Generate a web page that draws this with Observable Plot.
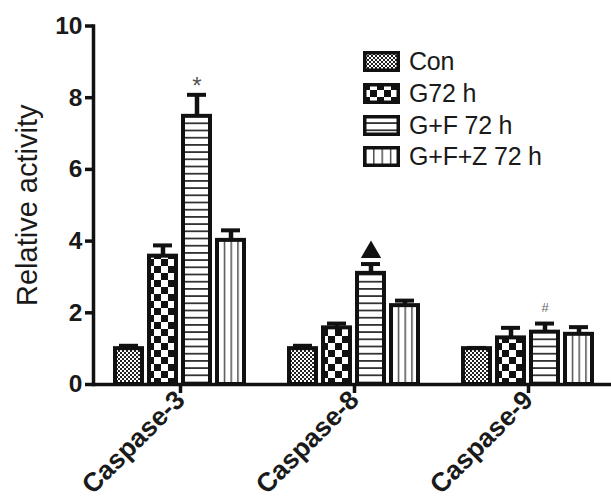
<!DOCTYPE html>
<html><head><meta charset="utf-8">
<script src="https://cdn.jsdelivr.net/npm/d3@7"></script>
<script src="https://cdn.jsdelivr.net/npm/@observablehq/plot@0.6"></script>
<style>
body{margin:0;background:#fff;overflow:hidden}
#wrap{position:relative;width:611px;height:501px}
#legend{position:absolute;left:363px;top:46px;font-family:"Liberation Sans",Arial,sans-serif;font-size:25px;color:#1a1a1a}
.row{display:flex;align-items:center;height:31.7px;white-space:nowrap}
.row svg{flex:none}
.row span{margin-left:9px;letter-spacing:-0.2px}
#defs{position:absolute;width:0;height:0;left:0;top:0}
</style></head><body>
<svg id="defs" width="0" height="0"></svg>
<div id="wrap"><div id="legend"></div></div>
<script>
// ---- data ----
const categories = ["Caspase-3", "Caspase-8", "Caspase-9"];
const series = ["Con", "G72 h", "G+F 72 h", "G+F+Z 72 h"];
const conValues = [1.0, 1.0, 1.0];
const g72Values = [3.58, 1.58, 1.30];
const gfValues  = [7.48, 3.10, 1.46];
const gfzValues = [4.02, 2.20, 1.40];
const conErrors = [0.08, 0.08, 0.02];
const g72Errors = [0.30, 0.12, 0.28];
const gfErrors  = [0.60, 0.26, 0.24];
const gfzErrors = [0.28, 0.14, 0.20];
const yTicks = [0, 2, 4, 6, 8, 10];
const yLabel = "Relative activity";
const annotCategories = ["Caspase-3", "Caspase-8", "Caspase-9"];
const annotSeries = ["G+F 72 h", "G+F 72 h", "G+F 72 h"];
const annotSymbols = ["*", "▲", "#"];

// ---- table ----
const valueSets = [conValues, g72Values, gfValues, gfzValues];
const errorSets = [conErrors, g72Errors, gfErrors, gfzErrors];
const rows = [];
categories.forEach((c, i) => series.forEach((s, j) => {
  rows.push({category: c, series: s, value: valueSets[j][i], error: errorSets[j][i], top: valueSets[j][i] + errorSets[j][i]});
}));
const annots = annotCategories.map((c, k) => {
  const r = rows.find(d => d.category === c && d.series === annotSeries[k]);
  return {category: c, series: annotSeries[k], top: r.top, symbol: annotSymbols[k]};
});

// ---- patterns ----
const defs = d3.select("#defs").append("defs");
let p = defs.append("pattern").attr("id", "pat0").attr("patternUnits", "userSpaceOnUse").attr("width", 4).attr("height", 4);
p.append("rect").attr("width", 4).attr("height", 4).attr("fill", "#fff");
p.append("rect").attr("width", 2).attr("height", 2).attr("fill", "#222");
p.append("rect").attr("x", 2).attr("y", 2).attr("width", 2).attr("height", 2).attr("fill", "#222");
p = defs.append("pattern").attr("id", "pat1").attr("patternUnits", "userSpaceOnUse").attr("width", 14).attr("height", 14);
p.append("rect").attr("width", 14).attr("height", 14).attr("fill", "#fff");
p.append("rect").attr("width", 7).attr("height", 7).attr("fill", "#111");
p.append("rect").attr("x", 7).attr("y", 7).attr("width", 7).attr("height", 7).attr("fill", "#111");
p = defs.append("pattern").attr("id", "pat2").attr("patternUnits", "userSpaceOnUse").attr("width", 8).attr("height", 7.2);
p.append("rect").attr("width", 8).attr("height", 7.2).attr("fill", "#fff");
p.append("rect").attr("y", 0).attr("width", 8).attr("height", 1.8).attr("fill", "#333");
p = defs.append("pattern").attr("id", "pat3").attr("patternUnits", "objectBoundingBox").attr("width", 0.25).attr("height", 1);
p.append("rect").attr("width", 100).attr("height", 2000).attr("fill", "#fff");
p.append("rect").attr("x", 0).attr("width", 1.4).attr("height", 2000).attr("fill", "#444");

const font = "Liberation Sans, Arial, sans-serif";
const chart = Plot.plot({
  width: 611, height: 501,
  marginLeft: 93, marginRight: -4, marginTop: 25.5, marginBottom: 117,
  style: {fontFamily: font, color: "#1a1a1a", background: "white", overflow: "visible"},
  fx: {domain: categories, padding: 0, label: null},
  x: {domain: series, paddingInner: 0.2, paddingOuter: 0.586, axis: null},
  y: {domain: [0, 10], label: null},
  marks: [
    Plot.ruleX(rows, {fx: "category", x: "series", y1: "value", y2: "top", stroke: "#111", strokeWidth: 4.5}),
    Plot.tickY(rows, {fx: "category", x: "series", y: "top", stroke: "#111", strokeWidth: 4, insetLeft: 4, insetRight: 4}),
    ...series.map((s, j) => Plot.barY(rows.filter(r => r.series === s), {
      fx: "category", x: "series", y: "value", fill: `url(#pat${j})`, stroke: "#111", strokeWidth: 4
    })),
    Plot.ruleY([0], {stroke: "#111", strokeWidth: 3.5}),
    Plot.frame({anchor: "left", facetAnchor: "left", stroke: "#111", strokeWidth: 3.5}),
    Plot.axisY({ticks: yTicks, tickSize: 8, tickPadding: 3, fontSize: 24.5, fontWeight: "bold", label: null, stroke: "#111", strokeWidth: 3.5}),
    Plot.text([yLabel], {frameAnchor: "left", facetAnchor: "left", textAnchor: "middle", rotate: -90, dx: -66, fontSize: 29, fill: "#1a1a1a"}),
    Plot.axisFx({anchor: "bottom", tickSize: 9, tickPadding: 2, tickRotate: -45, fontSize: 26.5, fontWeight: "bold", label: null, stroke: "#111", strokeWidth: 3.5}),
    Plot.text(annots.filter(a => a.symbol === "*"), {fx: "category", x: "series", y: "top", text: "symbol", dy: -9, fontSize: 24, fill: "#555"}),
    Plot.text(annots.filter(a => a.symbol === "#"), {fx: "category", x: "series", y: "top", text: "symbol", dy: -16, fontSize: 13, fill: "#666"}),
    Plot.dot(annots.filter(a => a.symbol === "▲"), {fx: "category", x: "series", y: "top", symbol: "triangle", r: 7.5, fill: "#111", dy: -12})
  ]
});
document.getElementById("wrap").prepend(chart);

// ---- legend ----
const legend = d3.select("#legend");
series.forEach((s, j) => {
  const row = legend.append("div").attr("class", "row");
  const sv = row.append("svg").attr("width", 37).attr("height", 21);
  sv.append("rect").attr("x", 1.75).attr("y", 1.75).attr("width", 33.5).attr("height", 17.5)
    .attr("fill", `url(#pat${j})`).attr("stroke", "#111").attr("stroke-width", 3.5);
  row.append("span").text(s);
});
</script>
</body></html>
